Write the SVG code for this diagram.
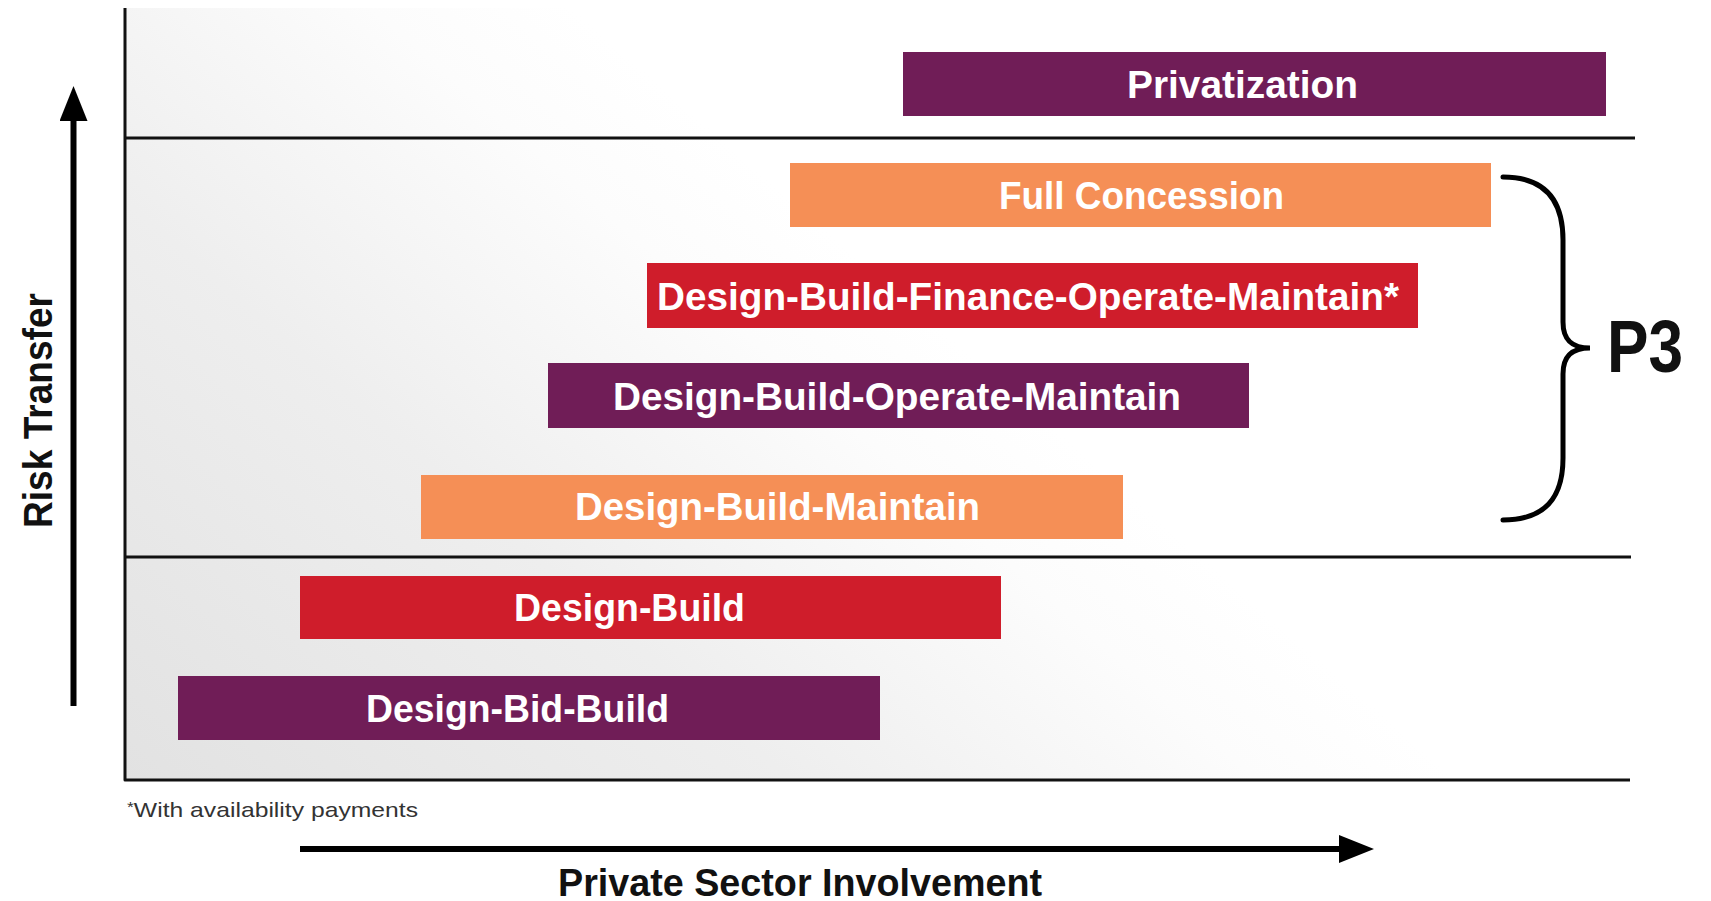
<svg xmlns="http://www.w3.org/2000/svg" width="1711" height="901" viewBox="0 0 1711 901">
  <defs>
    <linearGradient id="bg" gradientUnits="userSpaceOnUse" x1="125" y1="780" x2="700" y2="120">
      <stop offset="0" stop-color="#e2e2e2"/>
      <stop offset="0.5" stop-color="#eeeeee"/>
      <stop offset="0.85" stop-color="#fcfcfc"/>
      <stop offset="1" stop-color="#ffffff"/>
    </linearGradient>
    <marker id="head" markerUnits="userSpaceOnUse" viewBox="0 0 36 28" markerWidth="36" markerHeight="28" refX="1" refY="14" orient="auto">
      <path d="M0,0 L35,14 L0,28 Z" fill="#000"/>
    </marker>
  </defs>
  <style>
    .bar-label { font-family: "Liberation Sans", Arial, sans-serif; font-weight: bold; font-size: 38px; fill: #ffffff; }
    .purple { fill: #701d57; }
    .red { fill: #cf1d2b; }
    .orange { fill: #f58f56; }
    .grid { stroke: #111; stroke-width: 3; fill: none; stroke-linejoin: round; }
    .arrow { stroke: #000; stroke-width: 6; fill: none; }
    .axis-label { font-family: "Liberation Sans", Arial, sans-serif; font-weight: bold; fill: #111; }
  </style>
  <rect x="0" y="0" width="1711" height="901" fill="#ffffff"/>
  <rect x="125" y="8" width="1510" height="772" fill="url(#bg)"/>

  <g id="connectors">
    <path class="grid" d="M125,8 V780 H1630"/>
    <line class="grid" x1="125" y1="138" x2="1635" y2="138"/>
    <line class="grid" x1="125" y1="557" x2="1631" y2="557"/>
    <line class="arrow" x1="73.5" y1="706" x2="73.5" y2="120" marker-end="url(#head)"/>
    <line class="arrow" x1="300" y1="849" x2="1340" y2="849" marker-end="url(#head)"/>
    <path id="brace" d="M1503,177 C1545,177 1563,200 1563,240 L1563,322 C1563,340 1572,348 1590,348 C1572,348 1563,356 1563,374 L1563,458 C1563,498 1545,520 1503,520" stroke="#000" stroke-width="5" fill="none" stroke-linecap="round"/>
  </g>

  <g id="privatization">
    <rect class="purple" x="903" y="52" width="703" height="64"/>
    <text class="bar-label" x="1127" y="98" textLength="231" lengthAdjust="spacingAndGlyphs">Privatization</text>
  </g>
  <g id="full-concession">
    <rect class="orange" x="790" y="163" width="701" height="64"/>
    <text class="bar-label" x="999" y="209" textLength="285" lengthAdjust="spacingAndGlyphs">Full Concession</text>
  </g>
  <g id="dbfom">
    <rect class="red" x="647" y="263" width="771" height="65"/>
    <text class="bar-label" x="657" y="310" textLength="742" lengthAdjust="spacingAndGlyphs">Design-Build-Finance-Operate-Maintain*</text>
  </g>
  <g id="dbom">
    <rect class="purple" x="548" y="363" width="701" height="65"/>
    <text class="bar-label" x="613" y="410" textLength="568" lengthAdjust="spacingAndGlyphs">Design-Build-Operate-Maintain</text>
  </g>
  <g id="dbm">
    <rect class="orange" x="421" y="475" width="702" height="64"/>
    <text class="bar-label" x="575" y="520" textLength="405" lengthAdjust="spacingAndGlyphs">Design-Build-Maintain</text>
  </g>
  <g id="design-build">
    <rect class="red" x="300" y="576" width="701" height="63"/>
    <text class="bar-label" x="514" y="621" textLength="231" lengthAdjust="spacingAndGlyphs">Design-Build</text>
  </g>
  <g id="design-bid-build">
    <rect class="purple" x="178" y="676" width="702" height="64"/>
    <text class="bar-label" x="366" y="722" textLength="303" lengthAdjust="spacingAndGlyphs">Design-Bid-Build</text>
  </g>

  <g id="p3">
    <text class="axis-label" x="1607" y="372" font-size="74" textLength="76" lengthAdjust="spacingAndGlyphs" fill="#000">P3</text>
  </g>
  <g id="y-axis-label">
    <text class="axis-label" x="0" y="0" font-size="40" text-anchor="middle" textLength="235" lengthAdjust="spacingAndGlyphs" transform="translate(51.5,410.5) rotate(-90)">Risk Transfer</text>
  </g>
  <g id="x-axis-label">
    <text class="axis-label" x="558" y="896" font-size="38" textLength="484" lengthAdjust="spacingAndGlyphs">Private Sector Involvement</text>
  </g>
  <g id="footnote">
    <text x="127" y="817" font-family="Liberation Sans, Arial, sans-serif" font-size="21" fill="#333" textLength="291" lengthAdjust="spacingAndGlyphs"><tspan font-size="15" dy="-5">*</tspan><tspan dy="5">With availability payments</tspan></text>
  </g>
</svg>
